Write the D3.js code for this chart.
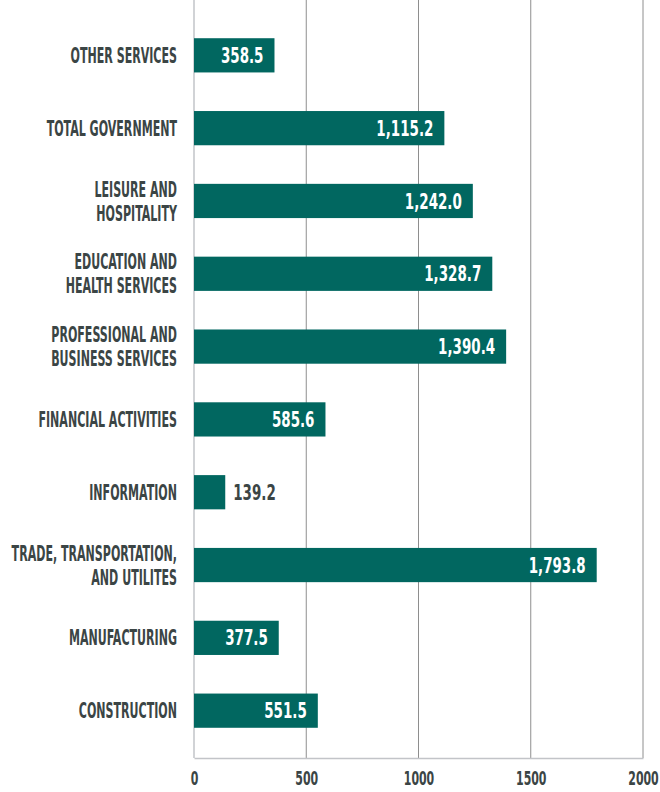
<!DOCTYPE html>
<html>
<head>
<meta charset="utf-8">
<script src="https://cdn.jsdelivr.net/npm/d3@7"></script>
<style>
  body { margin: 0; background: #fff; }
  text { font-family: "DejaVu Sans Condensed", "DejaVu Sans", sans-serif; font-weight: bold; }
</style>
</head>
<body>
<svg id="chart" width="660" height="792"></svg>
<script>
var categories = [
    ["OTHER SERVICES"],
    ["TOTAL GOVERNMENT"],
    ["LEISURE AND", "HOSPITALITY"],
    ["EDUCATION AND", "HEALTH SERVICES"],
    ["PROFESSIONAL AND", "BUSINESS SERVICES"],
    ["FINANCIAL ACTIVITIES"],
    ["INFORMATION"],
    ["TRADE, TRANSPORTATION,", "AND UTILITES"],
    ["MANUFACTURING"],
    ["CONSTRUCTION"]
];
var values = [358.5, 1115.2, 1242.0, 1328.7, 1390.4, 585.6, 139.2, 1793.8, 377.5, 551.5];
var xTicks = [0, 500, 1000, 1500, 2000];

var svg = d3.select("#chart");
var plotLeft = 194, plotRight = 643, plotTop = 8, plotBottom = 758;
var barColor = "#016760", labelColor = "#3b4545";

var x = d3.scaleLinear().domain([0, 2000]).range([plotLeft, plotRight]);
var y = d3.scaleBand()
    .domain(d3.range(categories.length))
    .range([plotTop, plotBottom])
    .paddingInner(0.53)
    .paddingOuter(0.415);

// grid lines
svg.append("g")
    .selectAll("line")
    .data(xTicks.slice(1))
    .enter().append("line")
    .attr("x1", function(d) { return x(d); })
    .attr("x2", function(d) { return x(d); })
    .attr("y1", 0)
    .attr("y2", plotBottom)
    .style("stroke", "#8e8e8e")
    .style("stroke-width", 1);

var xAxis = d3.axisBottom(x).tickValues(xTicks).tickFormat(d3.format("d")).tickSize(0).tickPadding(14);
var gx = svg.append("g")
    .attr("transform", "translate(0," + plotBottom + ")")
    .attr("font-family", null)
    .call(xAxis);
gx.select(".domain").style("stroke", "#c2c4c8").style("stroke-width", 1.5);
gx.selectAll("text")
    .style("font-size", "19px")
    .style("fill", labelColor)
    .attr("transform", "scale(0.64,1)");

// zero line
svg.append("line")
    .attr("x1", x(0)).attr("x2", x(0))
    .attr("y1", 0).attr("y2", plotBottom)
    .style("stroke", "#c2c4c8")
    .style("stroke-width", 1.5);

var rows = svg.append("g")
    .selectAll("g")
    .data(values)
    .enter().append("g");

rows.append("rect")
    .attr("x", x(0))
    .attr("y", function(d, i) { return y(i); })
    .attr("width", function(d) { return x(d) - x(0); })
    .attr("height", y.bandwidth())
    .style("fill", barColor);

var fmt = d3.format(",.1f");
rows.append("text")
    .attr("transform", function(d, i) {
        var tx = d < 200 ? x(d) + 8 : x(d) - 11;
        return "translate(" + tx + "," + (y(i) + y.bandwidth() / 2) + ") scale(0.73,1)";
    })
    .attr("dy", "0.37em")
    .attr("text-anchor", function(d) { return d < 200 ? "start" : "end"; })
    .style("font-size", "20.5px")
    .style("fill", function(d) { return d < 200 ? labelColor : "#fff"; })
    .text(function(d) { return fmt(d); });

// category labels
var labelX = 177;
var lab = svg.append("g")
    .selectAll("text")
    .data(categories)
    .enter().append("text")
    .attr("transform", function(d, i) {
        return "translate(" + labelX + "," + (y(i) + y.bandwidth() / 2 - (d.length - 1) * 12) + ") scale(0.6,1)";
    })
    .attr("text-anchor", "end")
    .style("font-size", "20.5px")
    .style("fill", labelColor);

lab.selectAll("tspan")
    .data(function(d) { return d; })
    .enter().append("tspan")
    .attr("x", 0)
    .attr("y", function(d, j) { return j * 24; })
    .attr("dy", "0.37em")
    .text(function(d) { return d; });
</script>
</body>
</html>
